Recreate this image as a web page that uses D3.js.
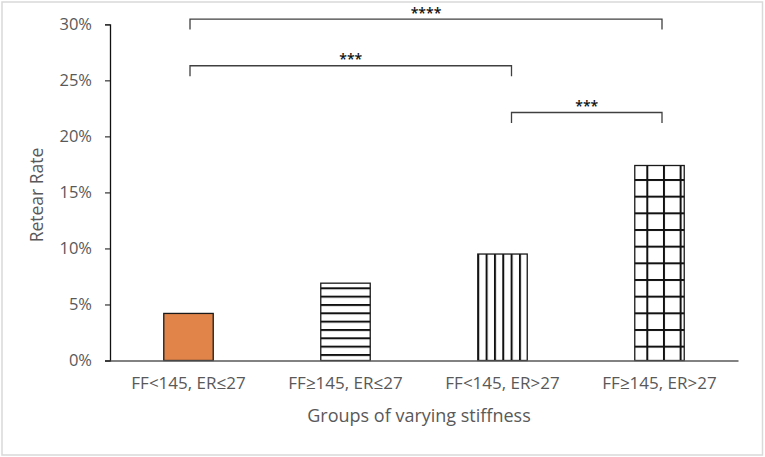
<!DOCTYPE html>
<html>
<head>
<meta charset="utf-8">
<script src="https://cdn.jsdelivr.net/npm/d3@7"></script>
<style>
  html, body { margin: 0; padding: 0; background: #fff; }
  svg { display: block; }
  text { font-family: "Open Sans", "Liberation Sans", sans-serif; }
</style>
</head>
<body>
<svg id="chart" width="765" height="457"></svg>
<script>
// ---- data ----
const categories = ["FF<145, ER≤27", "FF≥145, ER≤27", "FF<145, ER>27", "FF≥145, ER>27"];
const retearRate = [0.042, 0.069, 0.095, 0.174];
const fills = ["solid", "hstripe", "vstripe", "grid"];
const yTicks = [0, 0.05, 0.10, 0.15, 0.20, 0.25, 0.30];
const bracketFrom = [0, 0, 2];
const bracketTo = [3, 2, 3];
const bracketLevel = [0.3047, 0.263, 0.2213];
const bracketLabel = ["****", "***", "***"];
const xTitle = "Groups of varying stiffness";
const yTitle = "Retear Rate";

// ---- layout ----
const mLeft = 110, mRight = 738, mTop = 24.3, mBottom = 360.5;
const svg = d3.select("#chart");

// outer border
svg.append("rect").attr("x", 2).attr("y", 2).attr("width", 760.5).attr("height", 453)
  .attr("fill", "#fff").attr("stroke", "#d9d9d9").attr("stroke-width", 1.5);

const x = d3.scaleBand().domain(categories).range([mLeft, mRight])
  .paddingInner(0.685).paddingOuter(0.3425);
const y = d3.scaleLinear().domain([0, 0.30]).range([mBottom, mTop]);

// patterns
const defs = svg.append("defs");
const step = 8.333;
const ph = defs.append("pattern").attr("id", "hstripe").attr("patternUnits", "userSpaceOnUse")
  .attr("width", 10).attr("height", step).attr("y", 4);
ph.append("rect").attr("width", 10).attr("height", step).attr("fill", "#fff");
ph.append("rect").attr("x", 0).attr("y", 0).attr("width", 10).attr("height", 2).attr("fill", "#111");

const pv = defs.append("pattern").attr("id", "vstripe").attr("patternUnits", "userSpaceOnUse")
  .attr("width", step).attr("height", 10).attr("x", 2.3);
pv.append("rect").attr("width", step).attr("height", 10).attr("fill", "#fff");
pv.append("rect").attr("x", 0).attr("y", 0).attr("width", 2).attr("height", 10).attr("fill", "#111");

const g2 = 2 * step;
const pg = defs.append("pattern").attr("id", "grid").attr("patternUnits", "userSpaceOnUse")
  .attr("width", g2).attr("height", g2).attr("x", 646.3 - g2 * 38).attr("y", 179 - g2 * 10);
pg.append("rect").attr("width", g2).attr("height", g2).attr("fill", "#fff");
pg.append("rect").attr("x", 0).attr("y", 0).attr("width", 2).attr("height", g2).attr("fill", "#111");
pg.append("rect").attr("x", 0).attr("y", 0).attr("width", g2).attr("height", 2).attr("fill", "#111");

// bars
svg.append("g").selectAll("rect").data(categories).join("rect")
  .attr("x", d => x(d))
  .attr("y", (d, i) => y(retearRate[i]))
  .attr("width", x.bandwidth())
  .attr("height", (d, i) => y(0) - y(retearRate[i]))
  .attr("fill", (d, i) => fills[i] === "solid" ? "#e0844a" : `url(#${fills[i]})`)
  .attr("stroke", "#1a1a1a").attr("stroke-width", 1.3);

// y axis
const yAxis = svg.append("g").attr("transform", `translate(${mLeft},0)`)
  .call(d3.axisLeft(y).tickValues(yTicks).tickFormat(d3.format(".0%")).tickSize(5).tickPadding(13));
yAxis.select(".domain").attr("stroke", "#111").attr("stroke-width", 1.3);
yAxis.selectAll(".tick line").attr("stroke", "#333").attr("stroke-width", 1.2);
yAxis.selectAll(".tick text").attr("fill", "#595959").style("font-size", "16.5px")
  .style("font-family", "'Open Sans', sans-serif");

// x axis
const xAxis = svg.append("g").attr("transform", `translate(0,${mBottom})`)
  .call(d3.axisBottom(x).tickSize(0).tickPadding(16.5));
xAxis.select(".domain").attr("stroke", "#595959").attr("stroke-width", 1.6);
xAxis.selectAll(".tick text").attr("fill", "#595959").style("font-size", "17px")
  .style("font-family", "'Open Sans', sans-serif");

// axis titles
svg.append("text").attr("x", 419).attr("y", 422).attr("text-anchor", "middle")
  .attr("fill", "#595959").style("font-size", "18px").text(xTitle);
svg.append("text").attr("transform", `translate(43,195) rotate(-90)`).attr("text-anchor", "middle")
  .attr("fill", "#595959").style("font-size", "17.5px").text(yTitle);

// significance brackets
const bOff = [1.5, 0, 9, 2.5];
const bx = i => x(categories[i]) + x.bandwidth() / 2 + bOff[i];
const leg = 10.5;
const bg = svg.append("g");
bracketFrom.forEach((f, k) => {
  const x1 = bx(f), x2 = bx(bracketTo[k]), yy = y(bracketLevel[k]);
  bg.append("path")
    .attr("d", `M${x1},${yy + leg}V${yy}H${x2}V${yy + leg}`)
    .attr("fill", "none").attr("stroke", "#404040").attr("stroke-width", 1.3);
  bg.append("text").attr("x", (x1 + x2) / 2).attr("y", yy - 1.5).attr("text-anchor", "middle")
    .attr("fill", "#111").style("font-size", "14px").style("font-weight", "600").text(bracketLabel[k]);
});
</script>
</body>
</html>
